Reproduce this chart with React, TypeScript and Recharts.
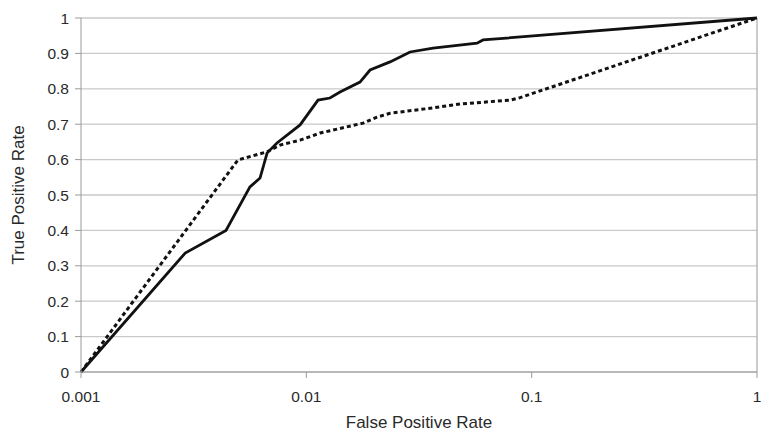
import React from "react";
import {
  LineChart,
  Line,
  XAxis,
  YAxis,
  CartesianGrid,
  ReferenceLine,
} from "recharts";

// Solid curve (false positive rate, true positive rate)
const solidFpr = [
  0.001, 0.0029, 0.0044, 0.00562, 0.00623, 0.0067, 0.00741, 0.00938, 0.01127,
  0.01273, 0.01411, 0.0173, 0.01918, 0.02352, 0.02886, 0.0365, 0.05722,
  0.06085, 1,
];
const solidTpr = [
  0, 0.336, 0.4, 0.523, 0.548, 0.619, 0.647, 0.698, 0.768, 0.774, 0.791,
  0.819, 0.853, 0.876, 0.904, 0.915, 0.929, 0.938, 1,
];

// Dashed curve
const dashedFpr = [
  0.001, 0.00497, 0.0067, 0.00764, 0.00938, 0.0115, 0.01786, 0.0206, 0.02352,
  0.0365, 0.0481, 0.0802, 0.0888, 1,
];
const dashedTpr = [
  0, 0.599, 0.622, 0.641, 0.655, 0.675, 0.703, 0.72, 0.731, 0.746, 0.757,
  0.768, 0.775, 1,
];

const xTicks = [0.001, 0.01, 0.1, 1];
const yTicks = [0, 0.1, 0.2, 0.3, 0.4, 0.5, 0.6, 0.7, 0.8, 0.9, 1];

const solidData = solidFpr.map((x, i) => ({ x, y: solidTpr[i] }));
const dashedData = dashedFpr.map((x, i) => ({ x, y: dashedTpr[i] }));

const FONT = "'Liberation Sans', Arial, sans-serif";
const TEXT = "#2a2a2a";
const GRID = "#c9c9c9";

export default function App() {
  return (
    <div style={{ width: 762, height: 432, fontFamily: FONT }}>
      <style>{`html,body{margin:0;padding:0;overflow:hidden;background:#fff}`}</style>
      <LineChart
        width={762}
        height={432}
        margin={{ top: 18, right: 5, left: 0, bottom: 0 }}
      >
        <CartesianGrid vertical={false} stroke={GRID} strokeWidth={1.3} />
        <XAxis
          dataKey="x"
          type="number"
          scale="log"
          domain={[0.001, 1]}
          ticks={xTicks}
          interval={0}
          height={60}
          stroke="#9a9a9a"
          tickSize={6}
          tickMargin={13}
          tick={{ fill: TEXT, fontSize: 15.5, fontFamily: FONT }}
          tickFormatter={(v: number) => String(v)}
          label={{
            value: "False Positive Rate",
            position: "insideBottom",
            offset: 4,
            fill: TEXT,
            fontSize: 17,
            fontFamily: FONT,
          }}
        />
        <YAxis
          type="number"
          domain={[0, 1]}
          ticks={yTicks}
          interval={0}
          width={81}
          stroke="#9a9a9a"
          tickSize={6}
          tickMargin={6}
          tick={{ fill: TEXT, fontSize: 15.5, fontFamily: FONT }}
          tickFormatter={(v: number) => String(v)}
          label={{
            value: "True Positive Rate",
            angle: -90,
            position: "insideLeft",
            offset: 18,
            fill: TEXT,
            fontSize: 17,
            fontFamily: FONT,
            style: { textAnchor: "middle" },
          }}
        />
        <ReferenceLine x={1} stroke="#b0b0b0" strokeWidth={1.3} />
        <Line
          data={dashedData}
          dataKey="y"
          type="linear"
          stroke="#111"
          strokeWidth={3}
          strokeDasharray="4 3"
          dot={false}
          isAnimationActive={false}
        />
        <Line
          data={solidData}
          dataKey="y"
          type="linear"
          stroke="#111"
          strokeWidth={2.8}
          dot={false}
          isAnimationActive={false}
        />
      </LineChart>
    </div>
  );
}
